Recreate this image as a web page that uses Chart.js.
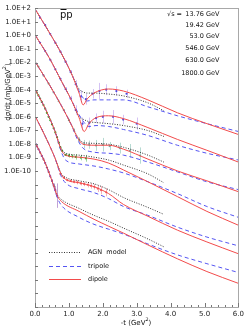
<!DOCTYPE html>
<html lang="en">
<head>
  <meta charset="UTF-8">
  <title>pbar p elastic dsigma/dt</title>
  <script src="https://cdn.jsdelivr.net/npm/chart.js"></script>
  <style>
    html, body { margin: 0; padding: 0; background: #fff; }
    #wrap { width: 247px; height: 331px; }
  </style>
</head>
<body>
  <div id="wrap"><canvas id="dsdt" width="247" height="331"></canvas></div>

  <script>
    // energies, top curve first (each set is shifted down on the plot)
    const energies = ['13.76 GeV', '19.42 GeV', '53.0 GeV', '546.0 GeV', '630.0 GeV', '1800.0 GeV'];

    // y axis: decade ticks, labels only down to 1.0E-10
    const yTickExp = [2,1,0,-1,-2,-3,-4,-5,-6,-7,-8,-9,-10,-11,-12,-13,-14,-15,-16,-17,-18,-19,-20];
    const yTickLabels = ['1.0E+2','1.0E+1','1.0E+0','1.0E-1','1.0E-2','1.0E-3','1.0E-4','1.0E-5',
                         '1.0E-6','1.0E-7','1.0E-8','1.0E-9','1.0E-10'];
    const xTickLabels = ['0.0','1.0','2.0','3.0','4.0','5.0','6.0'];

    // model curves, values are log10(dsigma/dt)
    // 13.76 GeV
    const t1 = [0,0.43,0.78,1.07,1.30,1.42,1.54,1.74,2.17,2.61,3.33,4.2,5.07,6.0];
    const dip1 = [1.95,0.18,-1.34,-2.79,-4.25,-5.12,-4.68,-4.25,-3.95,-4.10,-4.75,-5.70,-6.50,-7.30];
    const tri1 = [1.95,0.18,-1.34,-2.79,-4.10,-4.61,-4.83,-4.75,-4.75,-4.75,-5.26,-5.92,-6.50,-7.08];
    const tAgn1 = [0,0.43,0.78,1.07,1.30,1.42,1.54,1.74,2.17,2.61,3.33,3.8];
    const agn1 = [1.95,0.18,-1.34,-2.79,-3.95,-4.17,-4.25,-4.25,-4.32,-4.46,-4.97,-5.55];
    // 19.42 GeV
    const t2 = [0,0.43,0.78,1.07,1.30,1.45,1.59,1.80,2.17,2.61,3.33,4.2,5.07,6.0];
    const dip2 = [0.04,-1.70,-3.37,-4.75,-6.06,-7.08,-6.50,-6.06,-5.92,-6.13,-6.79,-7.66,-8.46,-9.33];
    const tri2 = [0.04,-1.70,-3.37,-4.75,-5.84,-6.42,-6.71,-6.64,-6.71,-6.93,-7.37,-8.09,-8.68,-9.18];
    const tAgn2 = [0,0.43,0.78,1.07,1.30,1.45,1.59,1.80,2.17,2.61,3.33,3.8];
    const agn2 = [0.04,-1.70,-3.37,-4.75,-5.99,-6.21,-6.35,-6.42,-6.50,-6.64,-7.01,-7.44];
    // 53.0 GeV
    const t3 = [0,0.43,0.78,1.07,1.25,1.42,1.74,2.17,2.61,3.33,4.2,5.07,6.0];
    const dip3 = [-1.92,-3.66,-5.19,-6.57,-7.51,-8.02,-8.09,-8.09,-8.38,-9.11,-9.98,-10.71,-11.51];
    const tri3 = [-1.92,-3.66,-5.19,-6.57,-7.66,-8.31,-8.60,-8.68,-8.82,-9.33,-10.05,-10.78,-11.36];
    const tAgn3 = [0,0.43,0.78,1.07,1.25,1.42,1.74,2.17,2.61,3.33,3.8];
    const agn3 = [-1.92,-3.66,-5.19,-6.57,-7.44,-7.88,-7.95,-8.02,-8.24,-8.82,-9.33];
    // 546.0 GeV
    const t4 = [0,0.29,0.58,0.78,0.90,1.30,1.74,2.17,2.61,3.33,4.2,5.07,6.0];
    const dip4 = [-3.95,-5.33,-7.00,-8.46,-8.82,-8.97,-9.11,-9.40,-9.91,-10.78,-11.87,-12.96,-13.98];
    const tri4 = [-3.95,-5.33,-7.00,-8.60,-9.18,-9.47,-9.62,-9.84,-10.13,-10.78,-11.65,-12.60,-13.40];
    const tAgn4 = [0,0.29,0.58,0.78,0.90,1.30,1.74,2.17,2.61,3.33,3.8];
    const agn4 = [-3.95,-5.33,-7.00,-8.38,-8.68,-8.82,-8.97,-9.18,-9.55,-10.20,-10.85];
    // 630.0 GeV
    const t5 = [0,0.29,0.58,0.78,0.93,1.30,1.74,2.17,2.61,3.33,4.2,5.07,6.0];
    const dip5 = [-5.92,-7.37,-8.97,-10.27,-10.64,-10.85,-11.14,-11.65,-12.45,-13.32,-14.34,-15.21,-16.08];
    const tri5 = [-5.92,-7.37,-8.97,-10.42,-10.93,-11.29,-11.58,-12.02,-12.60,-13.25,-14.12,-14.85,-15.50];
    const tAgn5 = [0,0.29,0.58,0.78,0.93,1.30,1.74,2.17,2.61,3.33,3.8];
    const agn5 = [-5.92,-7.37,-8.97,-10.20,-10.49,-10.71,-10.93,-11.36,-11.94,-12.67,-13.18];
    // 1800.0 GeV
    const t6 = [0,0.29,0.49,0.67,0.78,1.30,1.74,2.17,2.61,3.33,4.2,5.07,6.0];
    const dip6 = [-7.88,-9.33,-10.64,-11.87,-12.23,-12.96,-13.54,-14.05,-14.56,-15.43,-16.45,-17.39,-18.26];
    const tri6 = [-7.88,-9.33,-10.64,-12.02,-12.52,-13.40,-13.91,-14.27,-14.63,-15.36,-16.16,-16.81,-17.46];
    const tAgn6 = [0,0.29,0.49,0.67,0.78,1.30,1.74,2.17,2.61,3.33,3.8];
    const agn6 = [-7.88,-9.33,-10.64,-11.80,-12.09,-12.74,-13.25,-13.69,-14.19,-14.99,-15.57];

    // measured points: [-t, log10 value, log10 error]
    const pts1 = [[0.15,1.3,0],[0.3,0.75,0],[0.45,0.1,0],[0.6,-0.55,0],[0.75,-1.2,0.05],[0.9,-1.95,0.1],
                  [1.05,-2.7,0.15],[1.2,-3.6,0.3],[1.35,-4.5,0.45],[1.5,-4.7,0.4],[1.7,-4.3,0.35],[1.9,-4.1,0.6],
                  [2.1,-4.0,0.4],[2.4,-4.1,0.35],[2.7,-4.3,0.3]];
    const pts2 = [[0.15,-0.55,0],[0.3,-1.15,0],[0.45,-1.8,0],[0.6,-2.5,0.05],[0.75,-3.2,0.1],[0.9,-3.95,0.15],
                  [1.05,-4.65,0.2],[1.2,-5.5,0.35],[1.4,-6.5,0.45],[1.6,-6.45,0.4],[1.8,-6.1,0.35],[2.0,-6.0,0.45],
                  [2.3,-6.0,0.5],[2.6,-6.2,0.35],[3.0,-6.5,0.45]];
    const pts3 = [[0.1,-2.3,0],[0.25,-2.95,0],[0.4,-3.55,0],[0.55,-4.2,0],[0.7,-4.85,0],[0.85,-5.5,0.05],
                  [1.0,-6.25,0.1],[1.15,-7.0,0.15],[1.3,-7.7,0.2],[1.45,-8.0,0.3],[1.6,-8.05,0.3],[1.8,-8.1,0.4],
                  [2.0,-8.05,0.5],[2.2,-8.15,0.3],[2.5,-8.3,0.4],[2.8,-8.5,0.5],[3.1,-8.85,0.6]];
    const pts4 = [[0.05,-4.2,0],[0.1,-4.42,0],[0.15,-4.65,0],[0.2,-4.9,0],[0.25,-5.13,0],[0.3,-5.4,0],
                  [0.35,-5.7,0],[0.4,-6.0,0],[0.45,-6.25,0],[0.5,-6.55,0],[0.55,-6.83,0],[0.6,-7.15,0.05],
                  [0.65,-7.5,0.05],[0.7,-7.9,0.05],[0.75,-8.25,0.1],[0.8,-8.5,0.1],[0.9,-8.8,0.1],[1.0,-8.85,0.15],
                  [1.1,-8.9,0.15],[1.2,-8.95,0.2],[1.35,-9.0,0.2],[1.5,-9.05,0.25]];
    const pts5 = [[0.75,-10.2,0.1],[0.85,-10.48,0.1],[0.95,-10.65,0.1],[1.05,-10.72,0.1],[1.15,-10.78,0.12],
                  [1.25,-10.82,0.15],[1.35,-10.9,0.15],[1.45,-10.95,0.15],[1.55,-11.0,0.2],[1.65,-11.08,0.2],
                  [1.75,-11.15,0.2],[1.85,-11.28,0.25],[1.95,-11.4,0.3],[2.1,-11.55,0.3]];
    const pts6 = [[0.03,-8.03,0],[0.06,-8.18,0],[0.1,-8.38,0],[0.15,-8.63,0],[0.2,-8.88,0],[0.25,-9.13,0],
                  [0.3,-9.4,0],[0.35,-9.73,0],[0.4,-10.05,0.05],[0.45,-10.38,0.05],[0.5,-10.7,0.1],
                  [0.55,-11.05,0.15],[0.6,-11.4,0.3],[0.65,-11.8,0.9]];

    const curves = [
      [t1, dip1, tri1, tAgn1, agn1, pts1, '#4a4ae0', '#d4c2f4'],
      [t2, dip2, tri2, tAgn2, agn2, pts2, '#4a4ae0', '#d4c2f4'],
      [t3, dip3, tri3, tAgn3, agn3, pts3, '#7aa8a0', '#b6dad2'],
      [t4, dip4, tri4, tAgn4, agn4, pts4, '#2aa82a', '#9ad69a'],
      [t5, dip5, tri5, tAgn5, agn5, pts5, '#f06060', '#f8b0bc'],
      [t6, dip6, tri6, tAgn6, agn6, pts6, '#8a58ae', '#c0a2d6']
    ];

    const RED = '#f24b4b', BLUE = '#5555f2', AGN = '#333333';
    const FONT = 'DejaVu Sans';

    function toXY(ts, logs) {
      return ts.map((t, i) => ({ x: t, y: Math.pow(10, logs[i]) }));
    }

    const datasets = [];
    curves.forEach(c => {
      datasets.push({ label: 'dipole', data: toXY(c[0], c[1]), showLine: true, borderColor: RED,
        borderWidth: 1, pointRadius: 0, cubicInterpolationMode: 'monotone', order: 1 });
      datasets.push({ label: 'tripole', data: toXY(c[0], c[2]), showLine: true, borderColor: BLUE,
        borderWidth: 1, borderDash: [4, 3], pointRadius: 0, cubicInterpolationMode: 'monotone', order: 2 });
      datasets.push({ label: 'AGN model', data: toXY(c[3], c[4]), showLine: true, borderColor: AGN,
        borderWidth: 1, borderDash: [1, 1.5], pointRadius: 0, cubicInterpolationMode: 'monotone', order: 3 });
      datasets.push({ label: 'data', data: c[5].map(p => ({ x: p[0], y: Math.pow(10, p[1]), e: p[2] })),
        showLine: false, pointRadius: 1.1, pointBorderWidth: 0, backgroundColor: c[6],
        barColor: c[7], order: 5 });
    });

    // error bars, behind the lines
    const errorBars = {
      id: 'errorBars',
      beforeDatasetsDraw(chart) {
        const ctx = chart.ctx, xs = chart.scales.x, ys = chart.scales.y;
        ctx.save();
        ctx.lineWidth = 1;
        chart.data.datasets.forEach(ds => {
          if (!ds.barColor) return;
          ctx.strokeStyle = ds.barColor;
          ds.data.forEach(p => {
            if (!p.e) return;
            const px = Math.round(xs.getPixelForValue(p.x)) + 0.5;
            const lg = Math.log10(p.y);
            ctx.beginPath();
            ctx.moveTo(px, ys.getPixelForValue(Math.pow(10, lg + p.e)));
            ctx.lineTo(px, ys.getPixelForValue(Math.pow(10, lg - p.e)));
            ctx.stroke();
          });
        });
        ctx.restore();
      }
    };

    function supText(ctx, parts, x, y, size) {
      // parts: [text, isSup]
      let w = 0;
      parts.forEach(p => {
        ctx.font = (p[1] ? size * 0.7 : size) + 'px "' + FONT + '"';
        w += ctx.measureText(p[0]).width;
      });
      let cx = x - w / 2;
      parts.forEach(p => {
        ctx.font = (p[1] ? size * 0.7 : size) + 'px "' + FONT + '"';
        ctx.fillText(p[0], cx, p[1] ? y - size * 0.4 : y);
        cx += ctx.measureText(p[0]).width;
      });
    }

    const decorations = {
      id: 'decorations',
      afterDraw(chart) {
        const ctx = chart.ctx, a = chart.chartArea, xs = chart.scales.x, ys = chart.scales.y;
        ctx.save();
        // frame
        ctx.strokeStyle = '#a8a8a8';
        ctx.lineWidth = 1;
        ctx.strokeRect(Math.round(a.left) + 0.5, Math.round(a.top) + 0.5,
          Math.round(a.right - a.left), Math.round(a.bottom - a.top));
        // ticks, pointing inward
        ctx.strokeStyle = '#777';
        ctx.beginPath();
        for (let i = 0; i <= 30; i++) {
          const px = Math.round(xs.getPixelForValue(i * 0.2)) + 0.5;
          const len = i % 5 === 0 ? 4 : 2;
          ctx.moveTo(px, a.bottom);
          ctx.lineTo(px, a.bottom - len);
        }
        yTickExp.forEach(e => {
          const py = Math.round(ys.getPixelForValue(Math.pow(10, e))) + 0.5;
          ctx.moveTo(a.left, py);
          ctx.lineTo(a.left + 3, py);
        });
        ctx.stroke();

        ctx.fillStyle = '#111';
        ctx.textBaseline = 'middle';
        // p-bar p
        ctx.font = '10px "' + FONT + '"';
        ctx.textAlign = 'left';
        ctx.fillText('pp', 60, 15);
        ctx.strokeStyle = '#111';
        ctx.beginPath();
        ctx.moveTo(60.5, 9.5);
        ctx.lineTo(66.5, 9.5);
        ctx.stroke();

        // sqrt(s) labels
        ctx.font = '6.5px "' + FONT + '"';
        ctx.fillText('\u221As =', 167, 14);
        const ey = [14, 25, 36, 48, 60, 73];
        ctx.textAlign = 'right';
        energies.forEach((e, i) => ctx.fillText(e, 219.5, ey[i]));

        // legend
        const ly = [252, 266, 279];
        const styles = [[AGN, [1, 1.5]], [BLUE, [4, 3]], [RED, []]];
        const names = ['AGN  model', 'tripole', 'dipole'];
        ctx.textAlign = 'left';
        styles.forEach((s, i) => {
          ctx.strokeStyle = s[0];
          ctx.setLineDash(s[1]);
          ctx.beginPath();
          ctx.moveTo(49, ly[i] + 0.5);
          ctx.lineTo(81, ly[i] + 0.5);
          ctx.stroke();
          ctx.fillText(names[i], 88, ly[i]);
        });
        ctx.setLineDash([]);

        // axis titles
        ctx.textAlign = 'left';
        supText(ctx, [['-t (GeV', false], ['2', true], [')', false]], 136, 323, 7);
        ctx.translate(8, 92);
        ctx.rotate(-Math.PI / 2);
        supText(ctx, [['d\u03C3/dt (mb/GeV', false], ['2', true], [')', false]], 0, 0, 7);
        ctx.restore();
      }
    };

    new Chart(document.getElementById('dsdt'), {
      type: 'scatter',
      data: { datasets: datasets },
      options: {
        responsive: false,
        animation: false,
        devicePixelRatio: 1,
        layout: { padding: { top: 4, right: 5, left: 0, bottom: 0 } },
        plugins: { legend: { display: false }, tooltip: { enabled: false } },
        events: [],
        scales: {
          x: {
            type: 'linear', min: 0, max: 6,
            afterBuildTicks: s => { s.ticks = xTickLabels.map((l, i) => ({ value: i })); },
            ticks: { callback: (v, i) => xTickLabels[i], color: '#222', padding: 3,
                     maxRotation: 0, autoSkip: false, font: { family: FONT, size: 7 } },
            grid: { display: false, drawTicks: false },
            border: { display: false },
            afterFit: s => { s.height = 24; }
          },
          y: {
            type: 'logarithmic', min: 1e-20, max: 1e2,
            afterBuildTicks: s => { s.ticks = yTickExp.map(e => ({ value: Math.pow(10, e) })); },
            ticks: { callback: (v, i) => yTickLabels[i] || '', color: '#222', padding: 4,
                     autoSkip: false, font: { family: FONT, size: 7 } },
            grid: { display: false, drawTicks: false },
            border: { display: false },
            afterFit: s => { s.width = 35; }
          }
        }
      },
      plugins: [errorBars, decorations]
    });
  </script>
</body>
</html>
